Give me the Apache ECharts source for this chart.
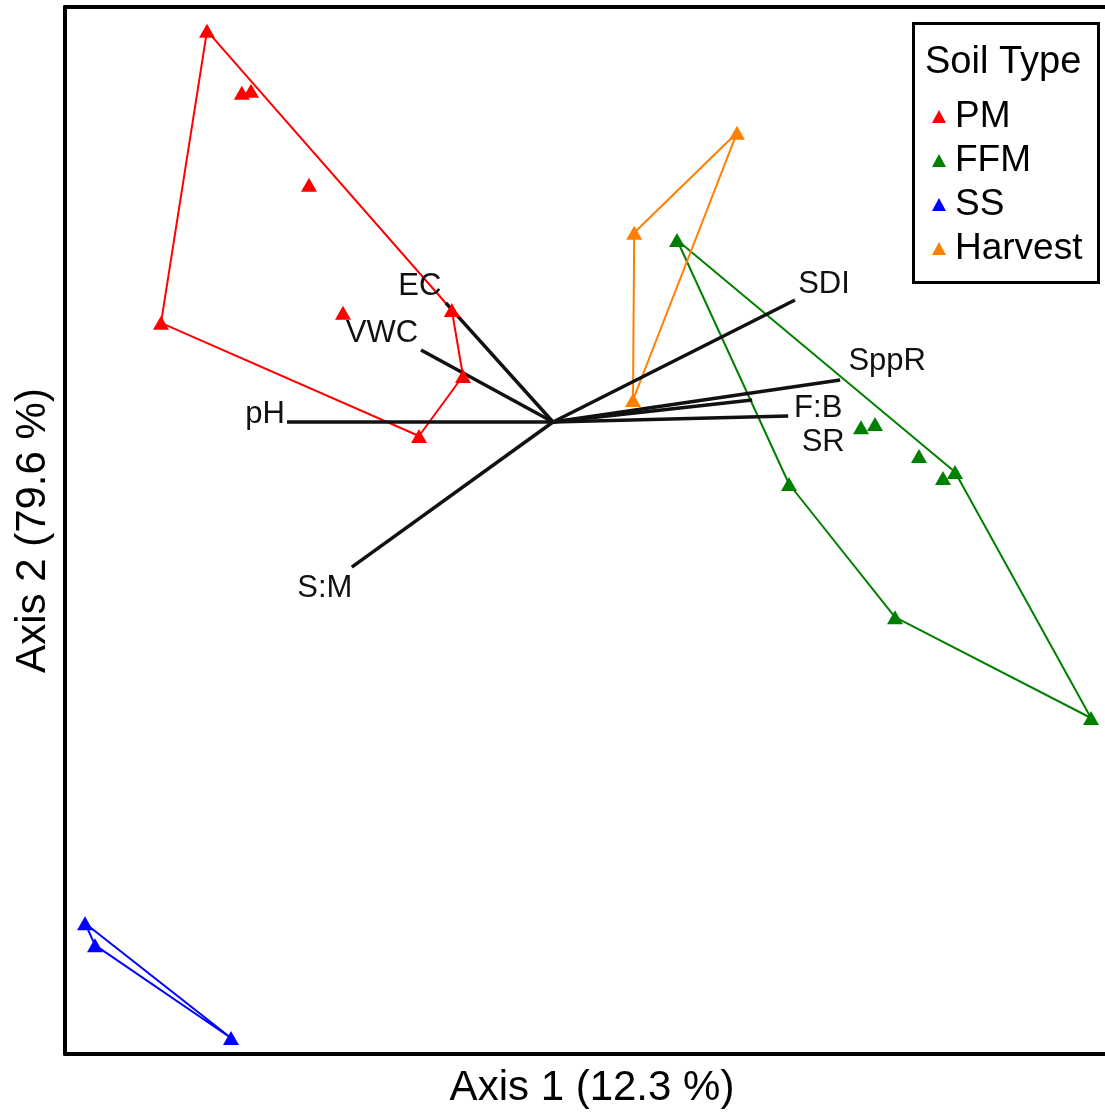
<!DOCTYPE html>
<html>
<head>
<meta charset="utf-8">
<title>Soil type ordination</title>
<script src="https://cdn.jsdelivr.net/npm/echarts@6/dist/echarts.min.js"></script>
<style>
  html, body { margin: 0; padding: 0; background: #fff; }
  #chart { width: 1105px; height: 1116px; }
</style>
</head>
<body>
<div id="chart"></div>
<script>
// Ordination scores per soil type: [Axis 1, Axis 2]
const pmScores = [
  [-0.865, 0.978], [-0.778, 0.823], [-0.755, 0.828], [-0.610, 0.593],
  [-0.980, 0.248], [-0.525, 0.273], [-0.253, 0.280], [-0.225, 0.115],
  [-0.335, -0.035]
];
const ffmScores = [
  [0.310, 0.455], [0.590, -0.155], [0.770, -0.013], [0.805, -0.005],
  [0.915, -0.085], [0.975, -0.140], [1.005, -0.125], [0.855, -0.488],
  [1.345, -0.740]
];
const ssScores = [
  [-1.170, -1.253], [-1.145, -1.308], [-0.805, -1.540]
];
const harvestScores = [
  [0.203, 0.473], [0.460, 0.723], [0.200, 0.055]
];

// Environmental / community vectors fitted onto the ordination
const vectorNames = ['pH', 'S:M', 'VWC', 'EC', 'SDI', 'SppR', 'F:B', 'SR'];
const vectorX = [-0.665, -0.503, -0.330, -0.268, 0.605, 0.718, 0.588, 0.498];
const vectorY = [0.000, -0.363, 0.180, 0.298, 0.305, 0.105, 0.015, 0.055];

const groupNames = ['PM', 'FFM', 'SS', 'Harvest'];
const groupColors = ['#ff0000', '#008000', '#0000ff', '#ff7f00'];
const groupScores = [pmScores, ffmScores, ssScores, harvestScores];

const axis1Title = 'Axis 1 (12.3 %)';
const axis2Title = 'Axis 2 (79.6 %)';
const legendTitle = 'Soil Type';

const FONT = '"Liberation Sans", Arial, sans-serif';

// Convex hull (monotone chain), returned closed
function convexHull(pts) {
  const p = pts.slice().sort((a, b) => a[0] - b[0] || a[1] - b[1]);
  if (p.length < 3) return p.concat([p[0]]);
  const cross = (o, a, b) => (a[0] - o[0]) * (b[1] - o[1]) - (a[1] - o[1]) * (b[0] - o[0]);
  const lower = [];
  for (const q of p) {
    while (lower.length >= 2 && cross(lower[lower.length - 2], lower[lower.length - 1], q) <= 0) lower.pop();
    lower.push(q);
  }
  const upper = [];
  for (let i = p.length - 1; i >= 0; i--) {
    const q = p[i];
    while (upper.length >= 2 && cross(upper[upper.length - 2], upper[upper.length - 1], q) <= 0) upper.pop();
    upper.push(q);
  }
  upper.pop(); lower.pop();
  const hull = lower.concat(upper);
  return hull.concat([hull[0]]);
}

// Label placement for the vector names (pixel offsets from the arrow tip)
const vectorLabelLayout = {
  'pH':   { align: 'right', offset: [-2, -8] },
  'S:M':  { align: 'center', offset: [-27, 21] },
  'VWC':  { align: 'center', offset: [-39, -17] },
  'EC':   { align: 'center', offset: [-26, -16] },
  'SDI':  { align: 'center', offset: [29, -16] },
  'SppR': { align: 'center', offset: [47, -19] },
  'F:B':  { align: 'center', offset: [30, -8] },
  'SR':   { align: 'center', offset: [71, 42] }
};

const series = [];

// Hull outlines
groupScores.forEach((pts, i) => {
  series.push({
    name: groupNames[i] + '-hull',
    type: 'line',
    data: convexHull(pts),
    symbol: 'none',
    silent: true,
    z: 2,
    lineStyle: { color: groupColors[i], width: 2 },
    animation: false
  });
});

// Vector segments
vectorNames.forEach((n, i) => {
  series.push({
    name: 'vec-' + n,
    type: 'line',
    data: [[0, 0], [vectorX[i], vectorY[i]]],
    symbol: 'none',
    silent: true,
    z: 3,
    lineStyle: { color: '#111', width: 3.5, cap: 'butt' },
    animation: false
  });
});

// Vector labels
series.push({
  name: 'vec-labels',
  type: 'scatter',
  symbolSize: 0,
  silent: true,
  z: 4,
  itemStyle: { opacity: 1 },
  data: vectorNames.map((n, i) => ({
    value: [vectorX[i], vectorY[i]],
    label: {
      show: true,
      position: 'inside',
      formatter: n,
      align: vectorLabelLayout[n].align,
      verticalAlign: 'middle',
      offset: vectorLabelLayout[n].offset,
      color: '#111',
      fontSize: 31,
      fontFamily: FONT
    }
  })),
  animation: false
});

// Sample points
groupScores.forEach((pts, i) => {
  series.push({
    name: groupNames[i],
    type: 'scatter',
    data: pts,
    symbol: 'triangle',
    symbolSize: [16, 14],
    z: 5,
    itemStyle: { color: groupColors[i], opacity: 1 },
    animation: false
  });
});

const axisLineStyle = { show: true, onZero: false, lineStyle: { color: '#000', width: 4 } };

const option = {
  animation: false,
  backgroundColor: '#fff',
  grid: { left: 65, right: 0, top: 7, bottom: 62 },
  xAxis: [
    {
      type: 'value', min: -1.22, max: 1.38, position: 'bottom',
      axisLine: axisLineStyle, axisTick: { show: false }, axisLabel: { show: false },
      splitLine: { show: false },
      name: axis1Title, nameLocation: 'middle', nameGap: 13,
      nameTextStyle: { fontSize: 42, fontFamily: FONT, color: '#000', padding: [0, 0, 0, 14] }
    },
    {
      type: 'value', min: -1.22, max: 1.38, position: 'top',
      axisLine: axisLineStyle, axisTick: { show: false }, axisLabel: { show: false },
      splitLine: { show: false }
    }
  ],
  yAxis: {
    type: 'value', min: -1.58, max: 1.0375,
    axisLine: axisLineStyle, axisTick: { show: false }, axisLabel: { show: false },
    splitLine: { show: false },
    name: axis2Title, nameLocation: 'middle', nameGap: 11, nameRotate: 90,
    nameTextStyle: { fontSize: 42, fontFamily: FONT, color: '#000' }
  },
  legend: {
    data: groupNames.map(n => ({ name: n, icon: 'triangle' })),
    orient: 'vertical',
    left: 927,
    top: 93,
    z: 8,
    itemWidth: 14,
    itemHeight: 13,
    itemGap: 7,
    selectedMode: false,
    textStyle: { fontSize: 37, fontFamily: FONT, color: '#000', padding: [0, 0, 0, 4] }
  },
  graphic: [
    {
      type: 'rect',
      left: 912, top: 22,
      shape: { width: 185, height: 259 },
      style: { fill: '#fff', stroke: '#000', lineWidth: 3 },
      z: 6
    },
    {
      type: 'text',
      left: 925, top: 44,
      style: { text: legendTitle, fontSize: 38, fontFamily: FONT, fill: '#000' },
      z: 7
    }
  ],
  series: series
};

const chart = echarts.init(document.getElementById('chart'), null, { renderer: 'canvas' });
chart.setOption(option);
</script>
</body>
</html>
